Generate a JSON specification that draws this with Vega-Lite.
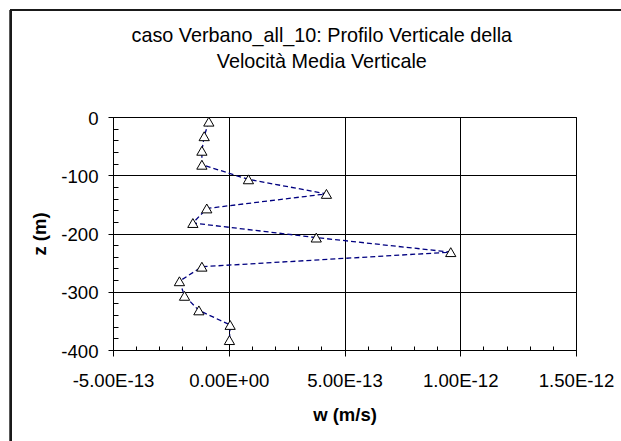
{
  "$schema": "https://vega.github.io/schema/vega-lite/v6.json",
  "width": 463,
  "height": 233,
  "autosize": "none",
  "padding": {"left": 113, "top": 117, "right": 45, "bottom": 91},
  "background": "white",
  "title": {
    "text": ["caso Verbano_all_10: Profilo Verticale della", "Velocità Media Verticale"],
    "font": "Liberation Sans",
    "fontSize": 19.8,
    "fontWeight": "normal",
    "color": "#000000",
    "lineHeight": 26,
    "anchor": "middle",
    "frame": "group",
    "baseline": "top",
    "dx": -22.7,
    "dy": 62.8,
    "offset": 0
  },
  "data": {
    "values": [
      {"i": 1, "w": -8.6e-14, "z": -8},
      {"i": 2, "w": -1.06e-13, "z": -33},
      {"i": 3, "w": -1.16e-13, "z": -58},
      {"i": 4, "w": -1.16e-13, "z": -82},
      {"i": 5, "w": 8.5e-14, "z": -107},
      {"i": 6, "w": 4.22e-13, "z": -132},
      {"i": 7, "w": -9.5e-14, "z": -157},
      {"i": 8, "w": -1.55e-13, "z": -182},
      {"i": 9, "w": 3.78e-13, "z": -207},
      {"i": 10, "w": 9.59e-13, "z": -232},
      {"i": 11, "w": -1.16e-13, "z": -257},
      {"i": 12, "w": -2.13e-13, "z": -282},
      {"i": 13, "w": -1.91e-13, "z": -307},
      {"i": 14, "w": -1.29e-13, "z": -332},
      {"i": 15, "w": 6e-15, "z": -357},
      {"i": 16, "w": 3e-15, "z": -383}
    ]
  },
  "layer": [
    {
      "mark": {"type": "line", "color": "#000080", "strokeWidth": 1.3, "strokeDash": [5, 3]},
      "encoding": {
        "x": {
          "field": "w",
          "type": "quantitative",
          "scale": {"domain": [-5e-13, 1.5e-12], "nice": false, "zero": false},
          "axis": {
            "orient": "bottom",
            "values": [-5e-13, 0, 5e-13, 1e-12, 1.5e-12],
            "labelExpr": "datum.value == 0 ? '0.00E+00' : replace(upper(format(datum.value, '.2e')), '\u2212', '-')",
            "grid": true,
            "gridColor": "#000000",
            "gridWidth": 1,
            "domainColor": "#000000",
            "tickColor": "#000000",
            "tickSize": 6,
            "labelFont": "Liberation Sans",
            "labelFontSize": 18.6,
            "labelColor": "#000000",
            "labelPadding": 15,
            "labelFlush": false,
            "labelOverlap": false,
            "labelBound": false,
            "title": "w (m/s)",
            "titleFont": "Liberation Sans",
            "titleFontSize": 18.5,
            "titleFontWeight": "bold",
            "titleColor": "#000000",
            "titleBaseline": "alphabetic",
            "titleX": 231.5,
            "titleY": 70
          }
        },
        "y": {
          "field": "z",
          "type": "quantitative",
          "scale": {"domain": [-400, 0], "nice": false, "zero": false},
          "axis": {
            "orient": "left",
            "values": [-400, -300, -200, -100, 0],
            "labelExpr": "replace(datum.label, '\u2212', '-')",
            "grid": true,
            "gridColor": "#000000",
            "gridWidth": 1,
            "domainColor": "#000000",
            "tickColor": "#000000",
            "tickSize": 5,
            "labelFont": "Liberation Sans",
            "labelFontSize": 18.6,
            "labelColor": "#000000",
            "labelPadding": 10,
            "labelOffset": 1,
            "labelFlush": false,
            "labelOverlap": false,
            "labelBound": false,
            "title": "z (m)",
            "titleFont": "Liberation Sans",
            "titleFontSize": 18.5,
            "titleFontWeight": "bold",
            "titleColor": "#000000",
            "titleAngle": 270,
            "titleBaseline": "alphabetic",
            "titleX": -67.5,
            "titleY": 116.5
          }
        },
        "order": {"field": "i", "type": "quantitative"}
      }
    },
    {
      "mark": {"type": "point", "shape": "triangle-up", "size": 105, "filled": true, "fill": "#ffffff", "stroke": "#000000", "strokeWidth": 1, "opacity": 1},
      "encoding": {
        "x": {"field": "w", "type": "quantitative", "axis": null},
        "y": {"field": "z", "type": "quantitative", "axis": null}
      }
    },
    {
      "mark": {"type": "point", "opacity": 0},
      "encoding": {
        "x": {
          "field": "w",
          "type": "quantitative",
          "axis": {
            "orient": "bottom",
            "values": [-4e-13, -3e-13, -2e-13, -1e-13, 1e-13, 2e-13, 3e-13, 4e-13, 6e-13, 7e-13, 8e-13, 9e-13, 1.1e-12, 1.2e-12, 1.3e-12, 1.4e-12],
            "tickSize": -4,
            "tickColor": "#000000",
            "labels": false,
            "domain": false,
            "grid": false,
            "title": null
          }
        },
        "y": {
          "field": "z",
          "type": "quantitative",
          "axis": {
            "orient": "left",
            "values": [-20, -40, -60, -80, -120, -140, -160, -180, -220, -240, -260, -280, -320, -340, -360, -380],
            "tickSize": -5,
            "tickColor": "#000000",
            "labels": false,
            "domain": false,
            "grid": false,
            "title": null
          }
        }
      }
    },
    {
      "mark": {"type": "rule", "color": "#1a1a1a", "strokeWidth": 1.5},
      "encoding": {
        "x": {"datum": -9.42e-13, "type": "quantitative", "axis": null},
        "y": {"datum": 184.2, "type": "quantitative", "axis": null},
        "y2": {"datum": -1000}
      }
    },
    {
      "mark": {"type": "rule", "color": "#1a1a1a", "strokeWidth": 1.5},
      "encoding": {
        "x": {"datum": -9.42e-13, "type": "quantitative", "axis": null},
        "x2": {"datum": 5e-12},
        "y": {"datum": 184.2, "type": "quantitative", "axis": null}
      }
    }
  ],
  "resolve": {"axis": {"x": "independent", "y": "independent"}},
  "config": {
    "view": {"stroke": "#000000", "strokeWidth": 1},
    "font": "Liberation Sans"
  }
}
